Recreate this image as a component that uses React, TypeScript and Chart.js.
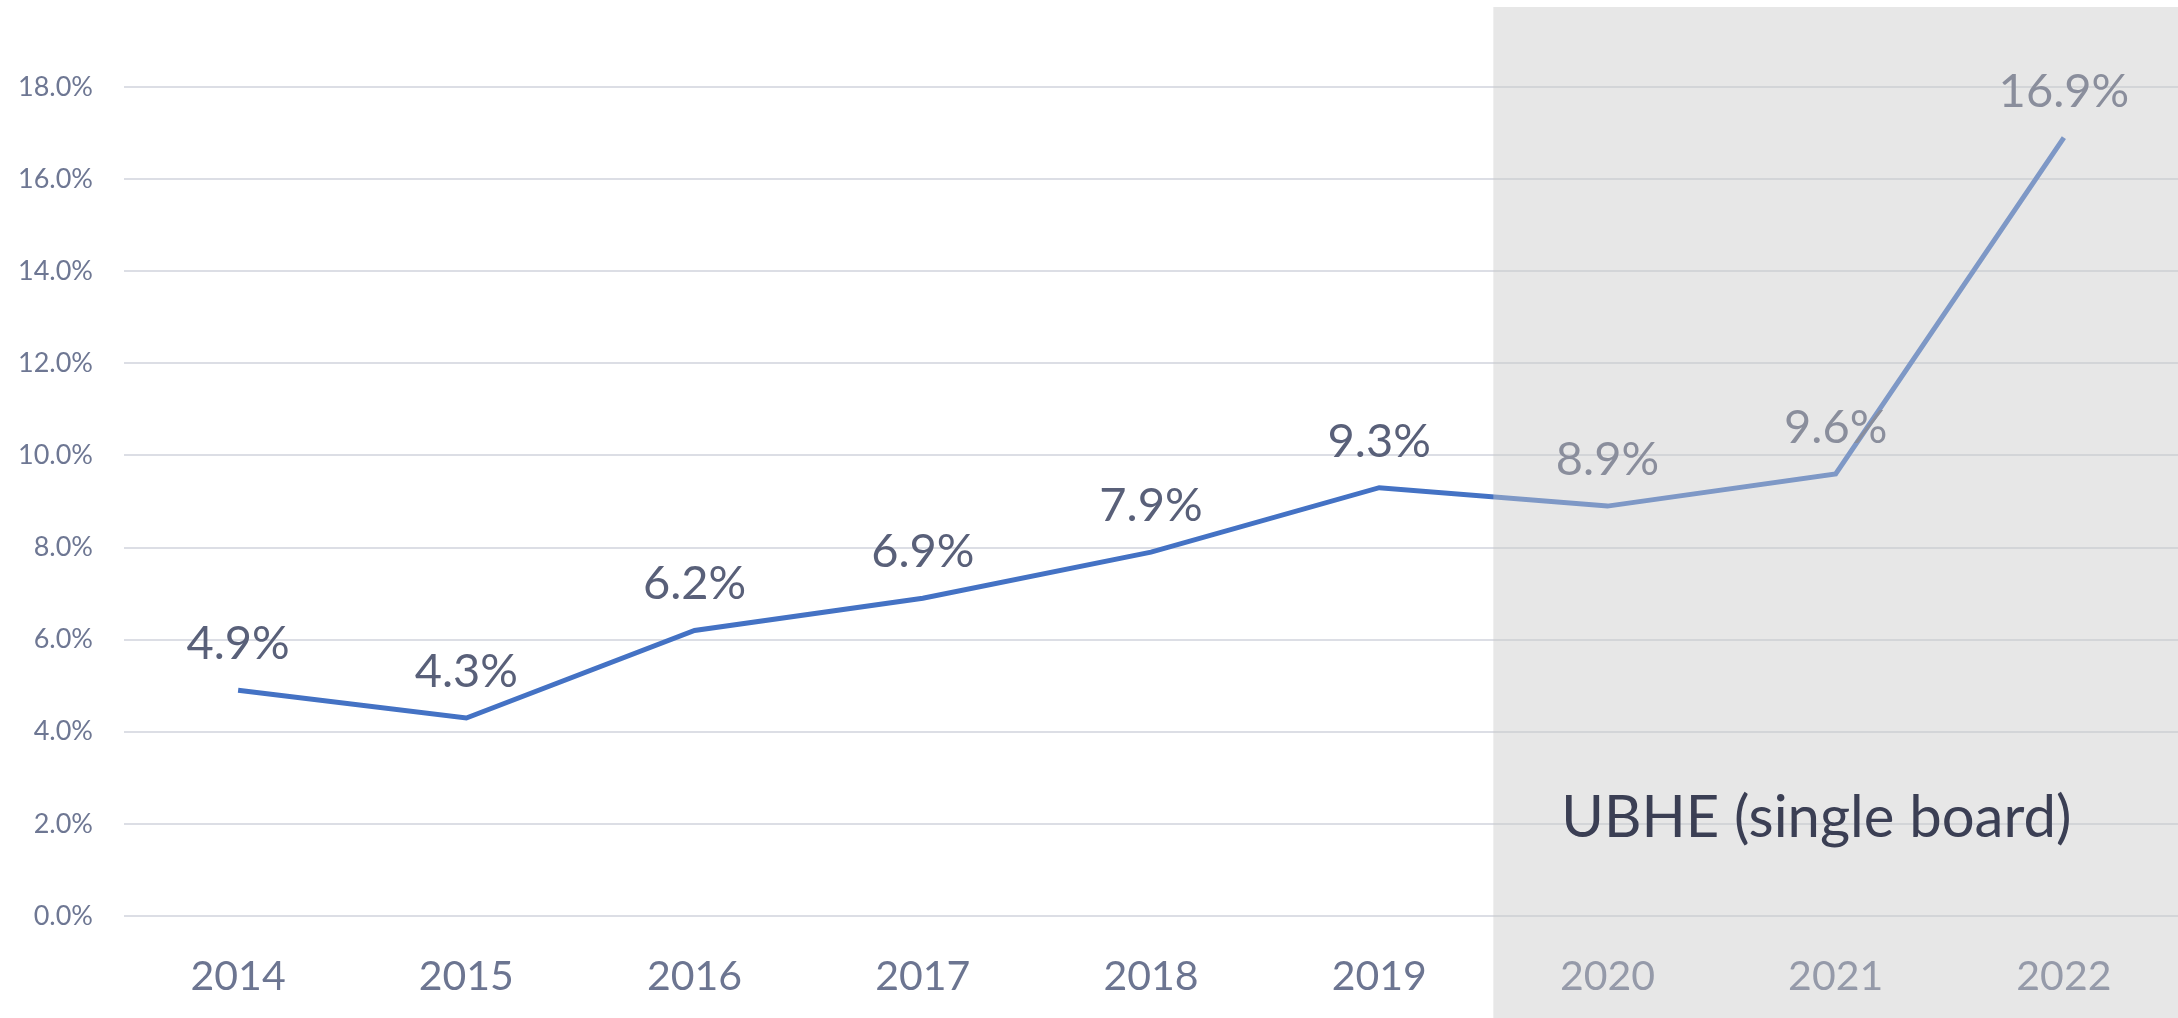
import React, { useEffect, useRef } from "react";
import { Chart, registerables } from "chart.js";

Chart.register(...registerables);

const categories = ["2014", "2015", "2016", "2017", "2018", "2019", "2020", "2021", "2022"];
const rates = [4.9, 4.3, 6.2, 6.9, 7.9, 9.3, 8.9, 9.6, 16.9];
const yMin = 0;
const yMax = 18;
const yStep = 2;
const shadedFrom = "2020";
const shadedLabel = "UBHE (single board)";

const W = 2178;
const H = 1018;

export default function App() {
  const ref = useRef<HTMLCanvasElement | null>(null);

  useEffect(() => {
    document.body.style.margin = "0";
    const canvas = ref.current;
    if (!canvas) return;

    const overlayPlugin = {
      id: "overlay",
      afterDraw(chart: any) {
        const ctx = chart.ctx;
        const meta = chart.getDatasetMeta(0);
        const xs = chart.scales.x;
        const area = chart.chartArea;
        ctx.save();
        ctx.font = "47px Lato";
        ctx.fillStyle = "#596079";
        ctx.textAlign = "center";
        ctx.textBaseline = "alphabetic";
        meta.data.forEach((pt: any, i: number) => {
          ctx.fillText(rates[i].toFixed(1) + "%", pt.x, pt.y - 31);
        });
        const idx = categories.indexOf(shadedFrom);
        const left = (xs.getPixelForValue(idx - 1) + xs.getPixelForValue(idx)) / 2;
        ctx.fillStyle = "rgba(201,201,201,0.444)";
        ctx.fillRect(left, 7, chart.width - left, chart.height - 7);
        ctx.font = "58px Lato";
        ctx.fillStyle = "#3b3f54";
        ctx.textAlign = "left";
        ctx.fillText(shadedLabel, left + 68, area.bottom - 79);
        ctx.restore();
      },
    };

    const chart = new Chart(canvas, {
      type: "line",
      data: {
        labels: categories,
        datasets: [
          {
            data: rates,
            borderColor: "#4472C4",
            borderWidth: 5,
            pointRadius: 0,
            tension: 0,
            fill: false,
          },
        ],
      },
      options: {
        responsive: false,
        animation: false,
        devicePixelRatio: 1,
        layout: { padding: { top: 87, right: 0, bottom: 0, left: 0 } },
        plugins: {
          legend: { display: false },
          tooltip: { enabled: false },
        },
        scales: {
          x: {
            offset: true,
            grid: { display: false, drawTicks: false },
            border: { display: false },
            ticks: {
              color: "#6c7591",
              font: { family: "Lato", size: 41 },
              padding: 36,
              maxRotation: 0,
              autoSkip: false,
            },
            afterFit: (scale: any) => {
              scale.height = 102;
            },
          },
          y: {
            min: yMin,
            max: yMax,
            grid: { color: "#dcdee5", lineWidth: 2, drawTicks: false },
            border: { display: false },
            ticks: {
              stepSize: yStep,
              color: "#6e7793",
              font: { family: "Lato", size: 27 },
              padding: 31,
              callback: (v: any) => Number(v).toFixed(1) + "%",
            },
            afterFit: (scale: any) => {
              scale.width = 124;
            },
          },
        },
      },
      plugins: [overlayPlugin],
    });

    return () => chart.destroy();
  }, []);

  return <canvas ref={ref} width={W} height={H} style={{ display: "block" }} />;
}
